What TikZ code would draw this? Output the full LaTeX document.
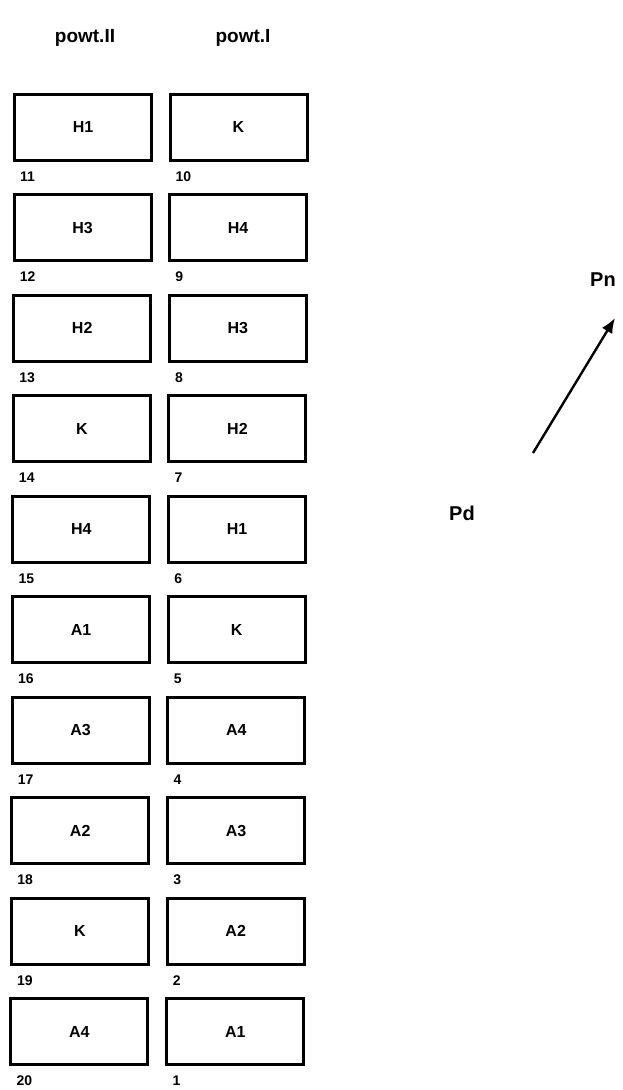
\documentclass[tikz,border=0pt]{standalone}
\usepackage{fontspec}
\setmainfont{Liberation Sans}
\usetikzlibrary{arrows.meta}
\begin{document}
\begin{tikzpicture}[x=1pt,y=-1pt,
  cell/.style={draw=black,line width=3pt,minimum width=137pt,minimum height=66pt,inner sep=0pt,font=\fontsize{16}{16}\selectfont\bfseries},
  num/.style={anchor=west,inner sep=0pt,font=\fontsize{14}{14}\selectfont\bfseries},
  head/.style={inner sep=0pt,font=\fontsize{19}{19}\selectfont\bfseries},
  dirlabel/.style={inner sep=0pt,font=\fontsize{20}{20}\selectfont\bfseries},
  dirarrow/.style={line width=2.4pt,-{Latex[length=15pt,width=12pt]}}]
\useasboundingbox (0,0) rectangle (622,1090);
\node[head] (h2) at (85,38) {powt.II};
\node[head] (h1) at (243,38) {powt.I};
\foreach \i/\lt/\rt/\ln/\rn in {0/H1/K/11/10,1/H3/H4/12/9,2/H2/H3/13/8,3/K/H2/14/7,4/H4/H1/15/6,5/A1/K/16/5,6/A3/A4/17/4,7/A2/A3/18/3,8/K/A2/19/2,9/A4/A1/20/1}{
  \pgfmathsetmacro{\yc}{127+100.5*\i}
  \pgfmathsetmacro{\xl}{83-0.4*\i}
  \pgfmathsetmacro{\xr}{238.5-0.35*\i}
  \node[cell] (L\i) at (\xl,\yc) {\lt};
  \node[cell] (R\i) at (\xr,\yc) {\rt};
  \node[num] (nL\i) at ([xshift=7pt,yshift=-15pt]L\i.south west) {\ln};
  \node[num] (nR\i) at ([xshift=7pt,yshift=-15pt]R\i.south west) {\rn};
}
\node[dirlabel] (pn) at (603,280) {Pn};
\node[dirlabel] (pd) at (462,513) {Pd};
\coordinate (arS) at (533,453);
\coordinate (arE) at (615,318);
\draw[dirarrow] (arS) -- (arE);
\end{tikzpicture}
\end{document}
